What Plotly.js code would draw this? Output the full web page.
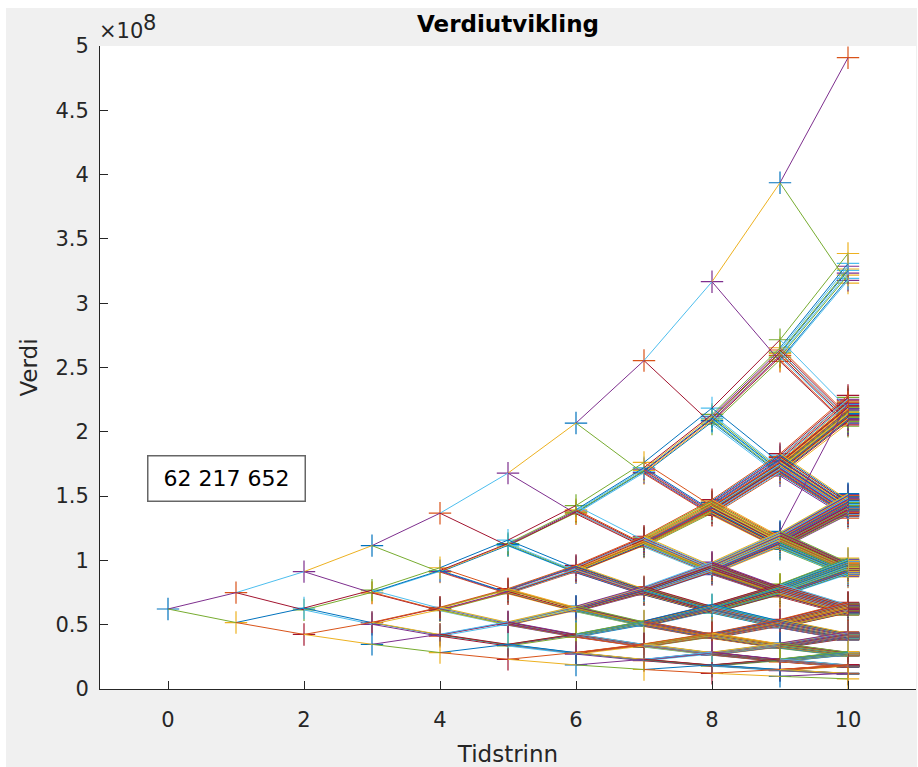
<!DOCTYPE html>
<html><head><meta charset="utf-8">
<script src="https://cdn.plot.ly/plotly-3.0.1.min.js"></script>
<style>
html,body{margin:0;padding:0;background:#ffffff;width:918px;height:767px;overflow:hidden}
#chart{position:absolute;left:6px;top:8px;width:911px;height:759px}
</style>
</head><body><div id="chart"></div>
<script>
// ---- data ----
const timeSteps = [0, 1, 2, 3, 4, 5, 6, 7, 8, 9, 10];
const startValue = 62217652;
// up factor per time step (down factor = 1 / up factor)
const upFactors = [1.204, 1.218, 1.222, 1.226, 1.228, 1.232, 1.235, 1.240, 1.243, 1.247];
// one odd branch: node 896 at step 10 is drawn at this value
const outlierStep = 10;
const outlierNode = 896;
const outlierValue = 2.23e8;
const colorOrder = ["#0072BD", "#D95319", "#EDB120", "#7E2F8E", "#77AC30", "#4DBEEE", "#A2142F"];
const xTickVals = [0, 2, 4, 6, 8, 10];
const xTickText = ["0", "2", "4", "6", "8", "10"];
const yTickVals = [0, 0.5e8, 1e8, 1.5e8, 2e8, 2.5e8, 3e8, 3.5e8, 4e8, 4.5e8, 5e8];
const yTickText = ["0", "0.5", "1", "1.5", "2", "2.5", "3", "3.5", "4", "4.5", "5"];

// ---- build the (non-recombining) tree from the factors ----
const nodes = [[startValue]];
for (let t = 1; t < timeSteps.length; t++) {
  const prev = nodes[t - 1], cur = new Array(prev.length * 2);
  for (let n = 0; n < cur.length; n++) {
    const p = prev[n >> 1];
    cur[n] = (n & 1) ? p / upFactors[t - 1] : p * upFactors[t - 1];
  }
  nodes.push(cur);
}
nodes[outlierStep][outlierNode] = outlierValue;

const traces = [];
// markers first (one colour per node, cycling)
const mx = [], my = [], mc = [];
let g = 0;
for (let t = 0; t < nodes.length; t++) {
  for (let n = 0; n < nodes[t].length; n++) {
    mx.push(timeSteps[t]); my.push(nodes[t][n]); mc.push(colorOrder[g % 7]); g++;
  }
}
traces.push({type: 'scatter', mode: 'markers', x: mx, y: my, hoverinfo: 'skip', showlegend: false,
  marker: {symbol: 'cross-thin', size: 16, color: mc, line: {color: mc, width: 1.2}}});
// then every branch as its own line, colours continue cycling
for (let t = 1; t < nodes.length; t++) {
  for (let s = 0; s < nodes[t].length; s++) {
    traces.push({type: 'scatter', mode: 'lines', x: [timeSteps[t - 1], timeSteps[t]],
      y: [nodes[t - 1][s >> 1], nodes[t][s]], hoverinfo: 'skip', showlegend: false,
      line: {color: colorOrder[g % 7], width: 1}});
    g++;
  }
}

const startLabel = String(startValue).replace(/\B(?=(\d{3})+(?!\d))/g, ' ');
const axisColor = '#262626';
const layout = {
  width: 911, height: 759,
  paper_bgcolor: '#f0f0f0', plot_bgcolor: '#ffffff',
  margin: {l: 94, r: 1, t: 38, b: 78, pad: 0},
  showlegend: false,
  font: {family: 'DejaVu Sans', color: axisColor, size: 21},
  title: {text: '<b>Verdiutvikling</b>', font: {family: 'DejaVu Sans', size: 23, color: '#000000'},
    x: 0.5, xref: 'paper', xanchor: 'center', y: 0.979, yref: 'container', yanchor: 'middle'},
  xaxis: {range: [-1, 11], tickmode: 'array', tickvals: xTickVals, ticktext: xTickText,
    ticks: 'inside', ticklen: 8, tickwidth: 1, tickcolor: axisColor, ticklabelstandoff: 12,
    showline: true, linecolor: axisColor, linewidth: 1, showgrid: false, zeroline: false,
    tickfont: {size: 21, color: axisColor},
    title: {text: 'Tidstrinn', font: {size: 23, color: axisColor}, standoff: 16}},
  yaxis: {range: [0, 5e8], tickmode: 'array', tickvals: yTickVals, ticktext: yTickText,
    ticks: 'inside', ticklen: 8, tickwidth: 1, tickcolor: axisColor, ticklabelstandoff: 6,
    showline: true, linecolor: axisColor, linewidth: 1, showgrid: false, zeroline: false,
    tickfont: {size: 21, color: axisColor},
    title: {text: 'Verdi', font: {size: 23, color: axisColor}, standoff: 11}},
  annotations: [
    {xref: 'paper', yref: 'paper', x: 0.155, y: 0.3274, xanchor: 'center', yanchor: 'middle',
      text: startLabel, showarrow: false, font: {size: 22, color: '#000000'},
      bgcolor: '#ffffff', bordercolor: '#666666', borderwidth: 1.5, borderpad: 0,
      width: 156, height: 44, align: 'center'},
    {xref: 'paper', yref: 'paper', x: -0.004, y: 1.0235, xanchor: 'left', yanchor: 'middle',
      text: '×10', showarrow: false, font: {size: 21, color: axisColor}},
    {xref: 'paper', yref: 'paper', x: 0.0505, y: 1.0365, xanchor: 'left', yanchor: 'middle',
      text: '8', showarrow: false, font: {size: 21, color: axisColor}}
  ]
};
Plotly.newPlot('chart', traces, layout, {staticPlot: true, displayModeBar: false});
</script>
</body></html>
